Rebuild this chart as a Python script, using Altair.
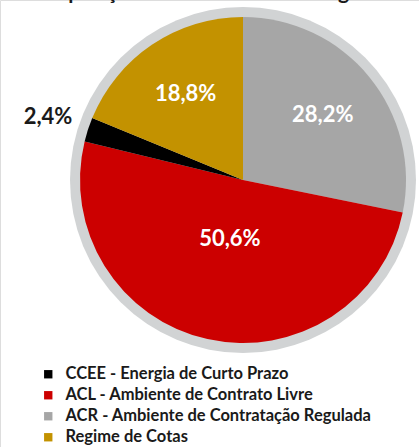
import altair as alt
import pandas as pd

categories = ["ACR - Ambiente de Contratação Regulada", "ACL - Ambiente de Contrato Livre",
              "CCEE - Energia de Curto Prazo", "Regime de Cotas"]
values = [28.2, 50.6, 2.4, 18.8]
labels = ["28,2%", "50,6%", "2,4%", "18,8%"]
pie_order = [0, 1, 2, 3]
legend_order = ["CCEE - Energia de Curto Prazo", "ACL - Ambiente de Contrato Livre",
                "ACR - Ambiente de Contratação Regulada", "Regime de Cotas"]
legend_colors = ["#000000", "#cc0000", "#a6a6a6", "#c39200"]
title_text = "Composição do Consumo de Energia"

df = pd.DataFrame({"cat": categories, "value": values, "label": labels, "ord": pie_order})

CX, CY = 243, 180
FONT = "Lato"

color = alt.Color("cat:N", scale=alt.Scale(domain=legend_order, range=legend_colors),
                  legend=alt.Legend(title=None, orient="none", legendX=40, legendY=366,
                                    symbolType="square", symbolSize=70, symbolStrokeWidth=0,
                                    labelFont=FONT, labelFontSize=16.5, labelFontWeight="bold",
                                    labelColor="#1a1a1a", rowPadding=4, labelOffset=9,
                                    labelLimit=400))

base = alt.Chart(df).transform_joinaggregate(
    total="sum(value)"
).transform_window(
    cum="sum(value)", sort=[alt.SortField("ord")], frame=[None, 0]
).transform_calculate(
    a0="2*PI*(datum.cum - datum.value)/datum.total",
    a1="2*PI*datum.cum/datum.total",
    mid="2*PI*(datum.cum - datum.value/2)/datum.total",
    r="datum.value >= 40 ? 60 : (datum.value <= 5 ? 205 : 103)"
)

ring = alt.Chart(pd.DataFrame({"v": [1]})).mark_arc(
    radius=173, theta=0, theta2=6.2832, color="#d1d3d4").encode(
    x=alt.value(CX), y=alt.value(CY))

pie = base.mark_arc(radius=163).encode(
    theta=alt.Theta("a0:Q", scale=None), theta2="a1:Q", color=color,
    x=alt.value(CX), y=alt.value(CY))

txt = base.mark_text(font=FONT, fontSize=22, fontWeight="bold", align="center",
                     baseline="middle").encode(
    theta=alt.Theta("mid:Q", scale=None), text="label:N",
    radius=alt.Radius("r:Q", scale=None),
    color=alt.condition("datum.value <= 5", alt.value("#1a1a1a"), alt.value("white")),
    x=alt.value(CX), y=alt.value(CY))

title = alt.Chart(pd.DataFrame({"t": [title_text]})).mark_text(
    font=FONT, fontSize=21, fontWeight="bold", align="center", baseline="alphabetic",
    color="#1a1a1a").encode(text="t:N", x=alt.value(195), y=alt.value(-1))

chart = alt.layer(ring, pie, txt, title).resolve_scale(
    theta="independent", radius="independent"
).properties(
    width=419, height=447, padding=0, autosize=alt.AutoSizeParams(type="none")
).configure_view(stroke=None).configure(background="white")

chart.save("out.html", embed_options={"renderer": "svg", "actions": False})
